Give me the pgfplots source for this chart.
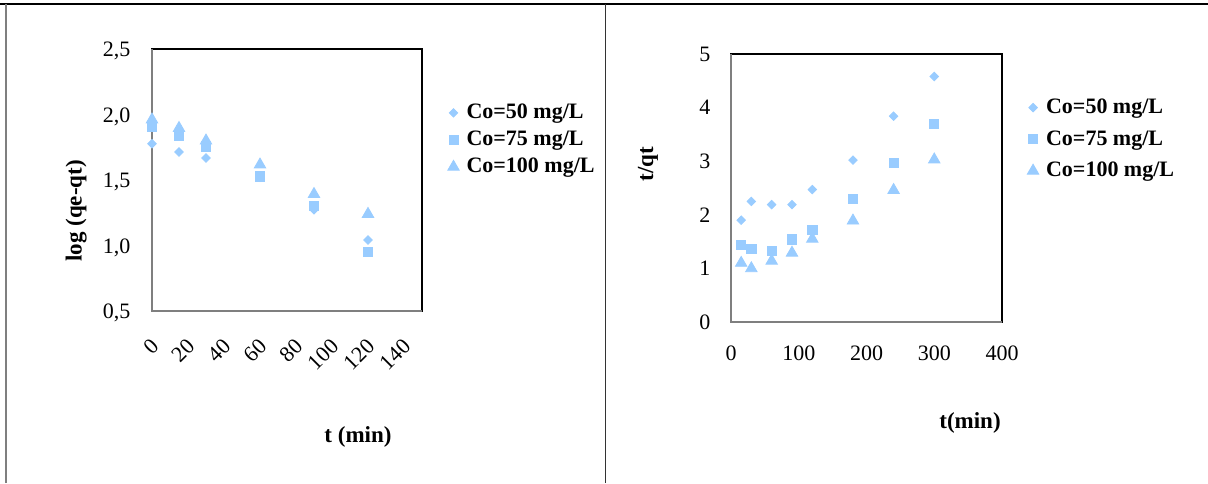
\documentclass[border=0pt]{standalone}
\usepackage{fontspec}
\setmainfont{Liberation Serif}
\usepackage{pgfplots}
\pgfplotsset{compat=1.18}
\definecolor{mk}{HTML}{99CCFF}
\definecolor{axgray}{HTML}{7F7F7F}

\pgfplotsset{
  common/.style={
    scale only axis,
    clip=false,
    axis line style={black, line width=0.8pt},
    major tick length=0pt,
    minor tick length=0pt,
    tick label style={font=\fontsize{11}{13}\selectfont},
    /pgf/number format/assume math mode=true,
    legend cell align=left,
    legend style={draw=none, fill=none, inner sep=0pt, anchor=west,
      font=\fontsize{11}{13}\selectfont\bfseries,
      nodes={inner sep=2pt, text height=8pt, text depth=2pt}},
    legend image code/.code={%
      \path[draw=none, fill=none] (0pt,0pt) -- (7.5pt,0pt);
      \draw[##1, draw=none] plot coordinates {(3pt,0pt)};},
  },
  s1/.style={only marks, color=mk, mark=square*, mark size=1.5pt, mark options={rotate=45, draw=none, fill=mk}},
  s2/.style={only marks, color=mk, mark=square*, mark size=2.3pt, mark options={draw=none, fill=mk}},
  s3/.style={only marks, color=mk, mark=triangle*, mark size=3.3pt, mark options={draw=none, fill=mk}},
}

\begin{document}
\begin{tikzpicture}
\useasboundingbox (0,0) rectangle (604pt,241.5pt);
\fill[white] (0,0) rectangle (604pt,241.5pt);
\draw[black, line width=1pt] (0,239.5pt) -- (604pt,239.5pt);
\draw[axgray, line width=0.8pt] (3pt,0) -- (3pt,239.5pt);
\draw[black!80, line width=0.5pt] (302.5pt,0) -- (302.5pt,239.5pt);

% ---------- left chart ----------
\begin{axis}[common,
  at={(76pt,86pt)}, anchor=south west,
  width=135pt, height=131pt,
  xmin=0, xmax=150, xtick={0,20,40,60,80,100,120,140},
  ymin=0.5, ymax=2.5, ytick={0.5,1,1.5,2,2.5},
  yticklabel style={/pgf/number format/fixed, /pgf/number format/fixed zerofill,
    /pgf/number format/precision=1, /pgf/number format/use comma,
    xshift=-7.3pt, yshift=-1pt},
  xticklabel style={xshift=4pt, yshift=-13.5pt, rotate=45, anchor=east},
  xlabel={t (min)}, ylabel={log (qe-qt)},
  every axis x label/.style={at={(axis description cs:0.763,-0.481)}, anchor=center,
    font=\fontsize{11.5}{13}\selectfont\bfseries},
  every axis y label/.style={at={(axis description cs:-0.281,0.382)}, rotate=90, anchor=center,
    font=\fontsize{11.5}{13}\selectfont\bfseries},
  legend style={at={(axis description cs:1.093,0.653)}, row sep=-0.5pt},
]
\draw[axgray, line width=1pt] (rel axis cs:0,1) -- (rel axis cs:0,0) -- (rel axis cs:1,0);
\addplot[s1] coordinates {(0,1.777) (15,1.714) (30,1.668) (60,1.52) (90,1.273) (120,1.042)};
\addlegendentry{Co=50 mg/L}
\addplot[s2] coordinates {(0,1.905) (15,1.84) (30,1.757) (60,1.528) (90,1.304) (120,0.953)};
\addlegendentry{Co=75 mg/L}
\addplot[s3] coordinates {(0,1.961) (15,1.896) (30,1.80) (60,1.617) (90,1.392) (120,1.24)};
\addlegendentry{Co=100 mg/L}
\end{axis}

% ---------- right chart ----------
\begin{axis}[common,
  at={(365.5pt,80.5pt)}, anchor=south west,
  width=135.5pt, height=134pt,
  xmin=0, xmax=400, xtick={0,100,200,300,400},
  ymin=0, ymax=5, ytick={0,1,2,3,4,5},
  yticklabel style={xshift=-6.8pt},
  xticklabel style={yshift=-8.6pt},
  xlabel={t(min)}, ylabel={t/qt},
  every axis x label/.style={at={(axis description cs:0.882,-0.377)}, anchor=center,
    font=\fontsize{11.5}{13}\selectfont\bfseries},
  every axis y label/.style={at={(axis description cs:-0.306,0.590)}, rotate=90, anchor=center,
    font=\fontsize{11.5}{13}\selectfont\bfseries},
  legend style={at={(axis description cs:1.091,0.682)}, row sep=1.8pt},
]
\draw[axgray, line width=1pt] (rel axis cs:0,1) -- (rel axis cs:0,0) -- (rel axis cs:1,0);
\addplot[s1] coordinates {(15,1.90) (30,2.25) (60,2.19) (90,2.19) (120,2.47) (180,3.02) (240,3.84) (300,4.58)};
\addlegendentry{Co=50 mg/L}
\addplot[s2] coordinates {(15,1.44) (30,1.36) (60,1.32) (90,1.54) (120,1.72) (180,2.29) (240,2.97) (300,3.69)};
\addlegendentry{Co=75 mg/L}
\addplot[s3] coordinates {(15,1.10) (30,1.00) (60,1.14) (90,1.29) (120,1.55) (180,1.89) (240,2.46) (300,3.03)};
\addlegendentry{Co=100 mg/L}
\end{axis}
\end{tikzpicture}
\end{document}
